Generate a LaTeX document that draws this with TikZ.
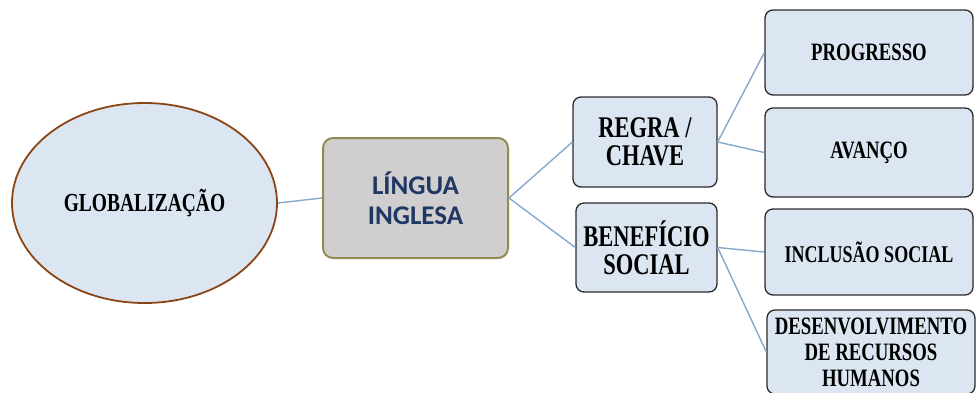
\documentclass[tikz,border=0pt]{standalone}
\usepackage{fontspec}
\setmainfont{Liberation Serif}
\newfontfamily\condserif[FakeStretch=0.75]{Liberation Serif Bold}
\newfontfamily\calib{Carlito Bold}
\usetikzlibrary{shapes.geometric}

\definecolor{boxfill}{HTML}{DCE6F2}
\definecolor{boxedge}{HTML}{2B2B2B}
\definecolor{ovaledge}{HTML}{8B4513}
\definecolor{centerfill}{HTML}{D0CECE}
\definecolor{centeredge}{HTML}{948A54}
\definecolor{navy}{HTML}{1F3864}
\definecolor{linkcol}{HTML}{86A8CC}

\tikzset{
  leafbox/.style={draw=boxedge, line width=1.3pt, fill=boxfill, rounded corners=8pt,
    align=center, inner sep=0pt, font=\condserif},
  link/.style={draw=linkcol, line width=1.4pt},
}

\begin{document}
\begin{tikzpicture}[x=1pt, y=-1pt]
  \useasboundingbox (0,0) rectangle (977,392);

  % central oval
  \node[ellipse, draw=ovaledge, line width=1.8pt, fill=boxfill,
        minimum width=265pt, minimum height=200pt, inner sep=0pt,
        font=\condserif\fontsize{26}{28}\selectfont]
    (glob) at (144.5,203) {GLOBALIZAÇÃO};

  % middle box
  \node[draw=centeredge, line width=2pt, fill=centerfill, rounded corners=10pt,
        minimum width=185pt, minimum height=120pt, inner sep=0pt, align=center,
        text=navy, font=\calib\fontsize{27}{30}\selectfont]
    (lingua) at (415.5,198) {LÍNGUA\\INGLESA};

  % second level
  \node[leafbox, minimum width=144pt, minimum height=90pt,
        font=\condserif\fontsize{30}{28}\selectfont]
    (regra) at (645,142) {REGRA /\\CHAVE};
  \node[leafbox, minimum width=141pt, minimum height=89pt,
        font=\condserif\fontsize{30}{28}\selectfont]
    (benef) at (646.5,247.5) {BENEFÍCIO\\SOCIAL};

  % third level
  \node[leafbox, minimum width=208pt, minimum height=85pt,
        font=\condserif\fontsize{25}{26}\selectfont]
    (prog) at (869,52.5) {PROGRESSO};
  \node[leafbox, minimum width=208pt, minimum height=89pt,
        font=\condserif\fontsize{25}{26}\selectfont]
    (avanco) at (869,152.5) {AVANÇO};
  \node[leafbox, minimum width=208pt, minimum height=86pt,
        font=\condserif\fontsize{24}{26}\selectfont]
    (inclusao) at (869,252) {INCLUSÃO SOCIAL};
  \node[leafbox, minimum width=208pt, minimum height=84pt,
        font=\condserif\fontsize{25}{26}\selectfont]
    (desenv) at (871,352) {DESENVOLVIMENTO\\DE RECURSOS\\HUMANOS};

  % connectors
  \draw[link] (glob.east) -- (lingua.west);
  \draw[link] (lingua.east) -- (regra.west);
  \draw[link] (lingua.east) -- (benef.west);
  \draw[link] (regra.east) -- (prog.west);
  \draw[link] (regra.east) -- (avanco.west);
  \draw[link] (benef.east) -- (inclusao.west);
  \draw[link] (benef.east) -- (desenv.west);
\end{tikzpicture}
\end{document}
